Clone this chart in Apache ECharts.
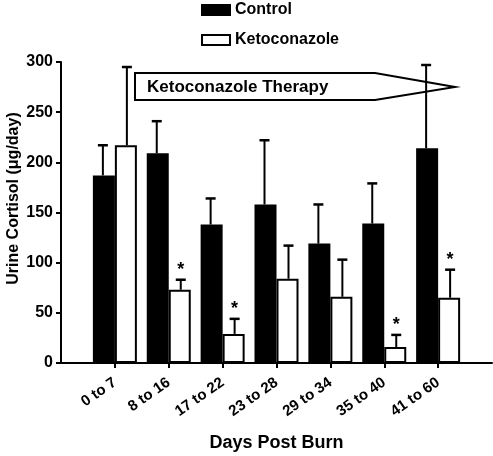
<!DOCTYPE html>
<html>
<head>
<meta charset="utf-8">
<script src="https://cdn.jsdelivr.net/npm/echarts@6/dist/echarts.min.js"></script>
<style>html,body{margin:0;padding:0;background:#fff}#c{width:493px;height:456px}</style>
</head>
<body>
<div id="c"></div>
<script>
// ---- data ----
const categories = ['0 to 7', '8 to 16', '17 to 22', '23 to 28', '29 to 34', '35 to 40', '41 to 60'];
const controlMean = [187, 209, 138, 158, 119, 139, 214];
const controlSem  = [30, 32, 26, 64, 39, 40, 83];
const ketoMean    = [217, 73, 29, 84, 66, 16, 65];
const ketoSem     = [78, 10, 15, 33, 37, 12, 28];
const ketoSignificant = [false, true, true, false, false, true, true];
const yTicks = [0, 50, 100, 150, 200, 250, 300];

const FONT = "'Liberation Sans', Arial, Helvetica, sans-serif";
// pad axis with an empty slot on each side
const xData = [''].concat(categories, ['']);
const pad = arr => ['-'].concat(arr, ['-']);
const BAR_W = 22;

function errData(mean, sem, sig) {
  return mean.map((m, i) => [i + 1, m, m + sem[i], sig ? (sig[i] ? 1 : 0) : 0]);
}
function errRender(side) {
  return function (params, api) {
    const idx = api.value(0);
    const base = api.coord([idx, api.value(1)]);
    const top = api.coord([idx, api.value(2)]);
    const x = base[0] + side * (BAR_W / 2 + 1);
    const children = [
      { type: 'line', shape: { x1: x, y1: base[1], x2: x, y2: top[1] }, style: { stroke: '#000', lineWidth: 2 } },
      { type: 'line', shape: { x1: x - 5, y1: top[1], x2: x + 5, y2: top[1] }, style: { stroke: '#000', lineWidth: 2.5 } }
    ];
    if (api.value(3) === 1) {
      children.push({ type: 'text', style: { x: x, y: top[1] - 10, text: '*', fill: '#000',
        font: 'bold 18px ' + FONT, align: 'center', verticalAlign: 'middle' } });
    }
    return { type: 'group', children: children };
  };
}

const chart = echarts.init(document.getElementById('c'));
chart.setOption({
  animation: false,
  textStyle: { fontFamily: FONT },
  grid: { left: 61, right: 1, top: 62, bottom: 93, containLabel: false, outerBoundsMode: 'none' },
  legend: {
    orient: 'vertical', left: 201, top: 2, padding: 0, itemWidth: 28, itemHeight: 10, itemGap: 14,
    icon: 'rect',
    textStyle: { fontSize: 16, fontWeight: 'bold', color: '#000', fontFamily: FONT },
    data: ['Control', 'Ketoconazole']
  },
  xAxis: {
    type: 'category', data: xData, boundaryGap: false,
    name: 'Days Post Burn', nameLocation: 'middle', nameGap: 71, nameMoveOverlap: false,
    nameTextStyle: { fontSize: 18, fontWeight: 'bold', color: '#000', fontFamily: FONT },
    axisLine: { lineStyle: { color: '#000', width: 2 } },
    axisTick: { length: 5, lineStyle: { color: '#000', width: 2 }, interval: (i) => i > 0 && i < xData.length - 1 },
    axisLabel: { interval: 0, rotate: 35, margin: 18, fontSize: 15, fontWeight: 'bold', color: '#000', fontFamily: FONT },
    splitLine: { show: false }
  },
  yAxis: {
    type: 'value', min: yTicks[0], max: yTicks[yTicks.length - 1], interval: yTicks[1] - yTicks[0],
    name: 'Urine Cortisol (\u03bcg/day)', nameLocation: 'middle', nameGap: 39, nameMoveOverlap: false,
    nameTextStyle: { fontSize: 16, fontWeight: 'bold', color: '#000', fontFamily: FONT, padding: [0, 0, 0, 28] },
    axisLine: { show: true, lineStyle: { color: '#000', width: 2 } },
    axisTick: { show: true, length: 5, lineStyle: { color: '#000', width: 2 } },
    axisLabel: { margin: 8, fontSize: 16, fontWeight: 'bold', color: '#000', fontFamily: FONT },
    splitLine: { show: false }
  },
  graphic: [
    { type: 'polygon', z: 1, shape: { points: [[135, 73], [375, 73], [455, 87], [375, 100], [135, 100]] },
      style: { fill: '#fff', stroke: '#000', lineWidth: 2 } },
    { type: 'text', z: 2, style: { x: 147, y: 87, text: 'Ketoconazole Therapy', font: 'bold 17px ' + FONT,
      fill: '#000', verticalAlign: 'middle' } }
  ],
  series: [
    { name: 'Control', type: 'bar', data: pad(controlMean), barWidth: BAR_W, barGap: '0%',
      itemStyle: { color: '#000', borderColor: '#000', borderWidth: 2 } },
    { name: 'Ketoconazole', type: 'bar', data: pad(ketoMean), barWidth: BAR_W, barGap: '0%',
      itemStyle: { color: '#fff', borderColor: '#000', borderWidth: 2 } },
    { name: 'ctrlErr', type: 'custom', z: 5, renderItem: errRender(-1), data: errData(controlMean, controlSem), silent: true },
    { name: 'ketoErr', type: 'custom', z: 5, renderItem: errRender(1), data: errData(ketoMean, ketoSem, ketoSignificant), silent: true }
  ]
});
</script>
</body>
</html>
